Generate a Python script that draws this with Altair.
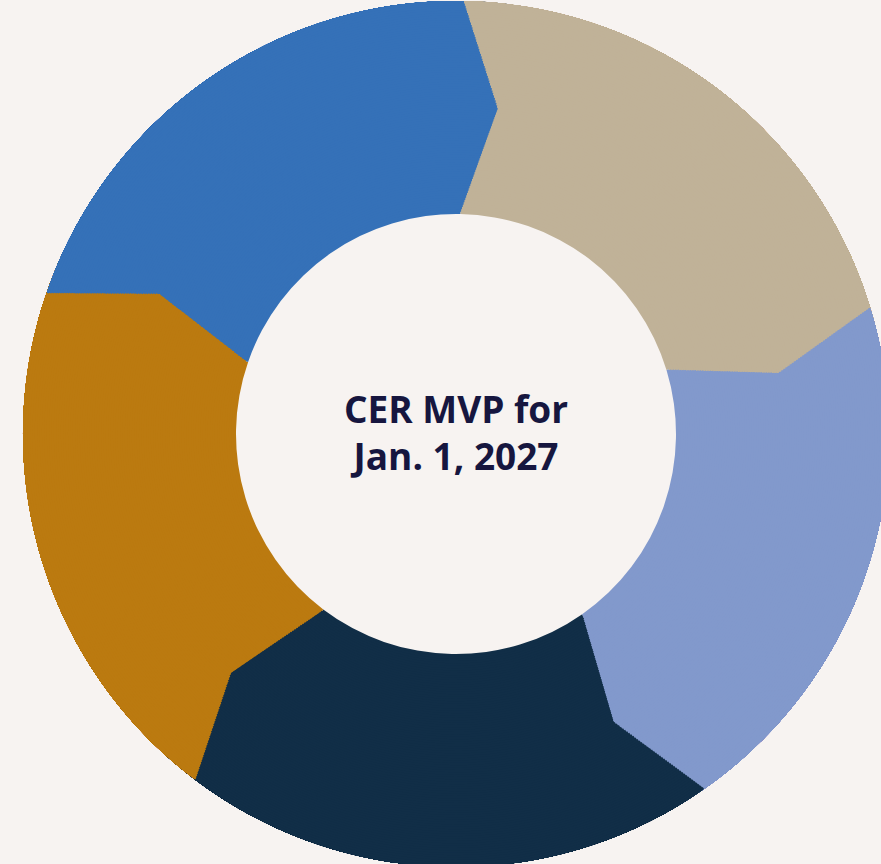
import math
import altair as alt
import pandas as pd

# ---- data -------------------------------------------------------------
segments = ["Segment 1", "Segment 2", "Segment 3", "Segment 4", "Segment 5"]
shares = [20, 20, 20, 20, 20]
colors = ["#C0B298", "#8299CC", "#112E47", "#BB7A10", "#3571B8"]
center_label = ["CER MVP for", "Jan. 1, 2027"]

# ---- layout / style ---------------------------------------------------
W, H = 881, 864
CX, CY = 456, 434
INNER, OUTER = 220, 433
TIP_R = 328        # radius of chevron tip
TIP_DEG = 6.3      # angular protrusion of chevron tip
ROT = 1.0          # rotation of the whole ring (degrees)
RINGS = 90         # thin rings used to draw the chevron edges
BG = "#F7F3F1"


def pt(rad, deg):
    a = math.radians(deg)
    return (rad * math.sin(a), rad * math.cos(a))


def boundary_angle(b, r):
    """Angle (deg) at radius r of the chevron edge belonging to boundary b."""
    T = pt(TIP_R, b + TIP_DEG)
    E = pt(OUTER, b) if r >= TIP_R else pt(INNER, b)
    dx, dy = E[0] - T[0], E[1] - T[1]
    qa = dx * dx + dy * dy
    qb = 2 * (T[0] * dx + T[1] * dy)
    qc = T[0] ** 2 + T[1] ** 2 - r * r
    disc = max(qb * qb - 4 * qa * qc, 0.0)
    roots = [(-qb + math.sqrt(disc)) / (2 * qa), (-qb - math.sqrt(disc)) / (2 * qa)]
    inside = [s for s in roots if -1e-9 <= s <= 1 + 1e-9]
    s = inside[0] if inside else min(max(roots[0], 0.0), 1.0)
    x, y = T[0] + s * dx, T[1] + s * dy
    deg = math.degrees(math.atan2(x, y))
    while deg < b - 180:
        deg += 360
    while deg > b + 180:
        deg -= 360
    return deg


total = sum(shares)
bounds = []
acc = 0
for v in shares:
    bounds.append(ROT + 360 * acc / total)
    acc += v
bounds.append(ROT + 360)

rows = []
for k in range(RINGS):
    t0 = k / RINGS
    r_mid = INNER + (k + 0.5) / RINGS * (OUTER - INNER)
    for j, name in enumerate(segments):
        a0 = boundary_angle(bounds[j], r_mid)
        a1 = boundary_angle(bounds[j + 1], r_mid)
        rows.append({"segment": name, "share": shares[j], "t0": t0, "t1": 1.0,
                     "a0": a0, "a1": a1, "ring": k})
df = pd.DataFrame(rows)

arcs = alt.Chart(df).mark_arc(stroke=None).encode(
    theta=alt.Theta("a0:Q", scale=alt.Scale(domain=[0, 360], range=[0, 2 * math.pi], zero=False)),
    theta2="a1:Q",
    radius=alt.Radius("t0:Q", scale=alt.Scale(type="linear", domain=[0, 1],
                                              range=[INNER, OUTER], zero=False)),
    radius2="t1:Q",
    color=alt.Color("segment:N", scale=alt.Scale(domain=segments, range=colors), legend=None),
    x=alt.value(CX),
    y=alt.value(CY),
)

label = alt.Chart(pd.DataFrame({"label": ["\n".join(center_label)]})).mark_text(
    font="Open Sans", fontWeight="bold", fontSize=37, lineHeight=47,
    color="#16163F", align="center", baseline="middle", lineBreak="\n",
).encode(
    text="label:N",
    x=alt.value(CX),
    y=alt.value(CY - 22),
)

chart = alt.layer(arcs, label).properties(
    width=W, height=H, background=BG, padding=0,
    autosize=alt.AutoSizeParams(type="none"),
).configure_view(stroke=None)

chart.save("out.html", embed_options={"renderer": "svg", "actions": False})
